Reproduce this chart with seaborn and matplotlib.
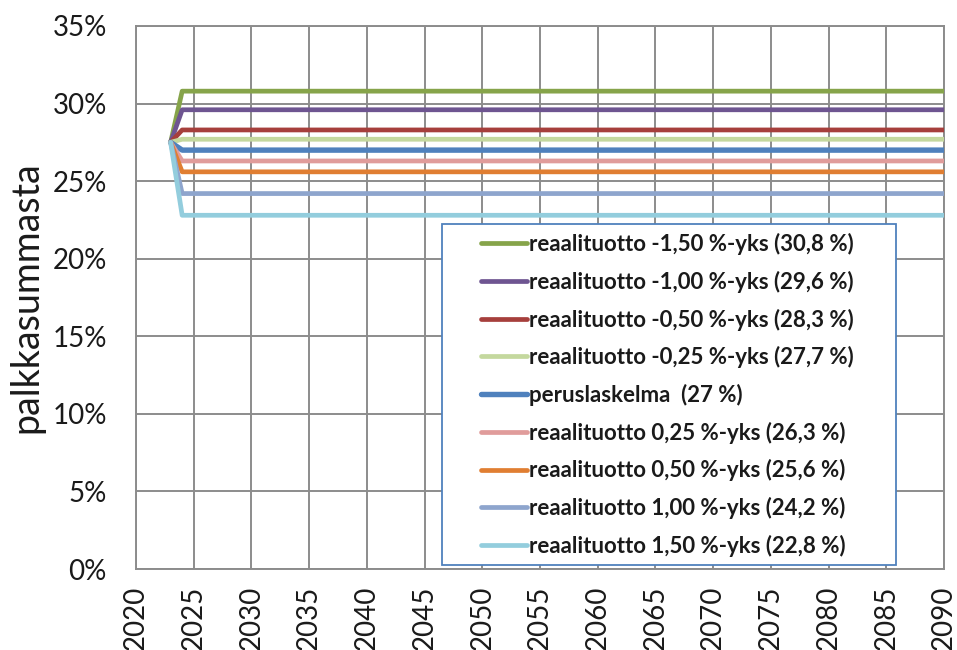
import matplotlib
matplotlib.use("Agg")
import matplotlib.pyplot as plt
import pandas as pd
import seaborn as sns
from matplotlib.patches import Rectangle
from matplotlib.ticker import FuncFormatter, MultipleLocator

# Contribution level as % of payroll under alternative real-return assumptions
years = [2023, 2024, 2090]
start_level = 27.5
series_labels = [
    "reaalituotto -1,50 %-yks (30,8 %)",
    "reaalituotto -1,00 %-yks (29,6 %)",
    "reaalituotto -0,50 %-yks (28,3 %)",
    "reaalituotto -0,25 %-yks (27,7 %)",
    "peruslaskelma  (27 %)",
    "reaalituotto 0,25 %-yks (26,3 %)",
    "reaalituotto 0,50 %-yks (25,6 %)",
    "reaalituotto 1,00 %-yks (24,2 %)",
    "reaalituotto 1,50 %-yks (22,8 %)",
]
levels = [30.8, 29.6, 28.3, 27.7, 27.0, 26.3, 25.6, 24.2, 22.8]
colors = ["#86A44A", "#6E5591", "#A63F3C", "#C4D89E", "#4F81BD",
          "#E09C9B", "#E07E32", "#8EA5CD", "#93CDDD"]

rows = []
for lab, lev in zip(series_labels, levels):
    vals = [start_level, lev, lev]
    for y, v in zip(years, vals):
        rows.append({"vuosi": y, "osuus": v, "skenaario": lab})
df = pd.DataFrame(rows)

sns.set_theme(style="white")
plt.rcParams["font.family"] = ["Lato", "DejaVu Sans"]

W, H = 957, 650
fig = plt.figure(figsize=(W / 100, H / 100), dpi=100)
ax = fig.add_axes([136 / W, 1 - 569 / H, (944 - 136) / W, (569 - 26) / H])

grid_col = "#8C8C8C"
for lab, col in zip(series_labels, colors):
    sub = df[df["skenaario"] == lab]
    lw = 3.9 if lab.startswith("perus") else 3.4
    sns.lineplot(data=sub, x="vuosi", y="osuus", color=col, linewidth=lw,
                 label=lab, ax=ax, zorder=3)

ax.set_xlim(2020, 2090)
ax.set_ylim(0, 35)
ax.xaxis.set_major_locator(MultipleLocator(5))
ax.yaxis.set_major_locator(MultipleLocator(5))
ax.yaxis.set_major_formatter(FuncFormatter(lambda v, p: f"{v:.0f}%"))
ax.set_axisbelow(True)
ax.grid(True, color=grid_col, linewidth=1.4)
for s in ax.spines.values():
    s.set_color(grid_col)
    s.set_linewidth(1.4)
ax.tick_params(axis="both", which="major", length=7, width=1.4, color=grid_col,
               direction="out", labelsize=20, labelcolor="#1a1a1a")
ax.tick_params(axis="x", labelrotation=90, pad=5)
ax.tick_params(axis="y", pad=14)
ax.set_xlabel("")
ax.set_ylabel("palkkasummasta", fontsize=27, color="#1a1a1a", labelpad=6)

# legend box drawn separately so its padding can be set freely
box = Rectangle((442 / W, 1 - 565 / H), (896 - 442) / W, (565 - 224) / H,
                transform=fig.transFigure, facecolor="white", edgecolor="#4F81BD",
                linewidth=1.3, zorder=4)
fig.add_artist(box)

leg = ax.legend(loc="upper left", bbox_to_anchor=(481 / W, 1 - 233 / H),
                bbox_transform=fig.transFigure, frameon=False,
                prop={"weight": "bold", "size": 16}, handlelength=2.05,
                handletextpad=0.12, labelspacing=0.705, borderpad=0.0,
                borderaxespad=0.0)
leg.remove()
leg.set_zorder(6)
fig.add_artist(leg)
for t in leg.get_texts():
    t.set_color("#1a1a1a")

fig.savefig("out.png", dpi=100)
